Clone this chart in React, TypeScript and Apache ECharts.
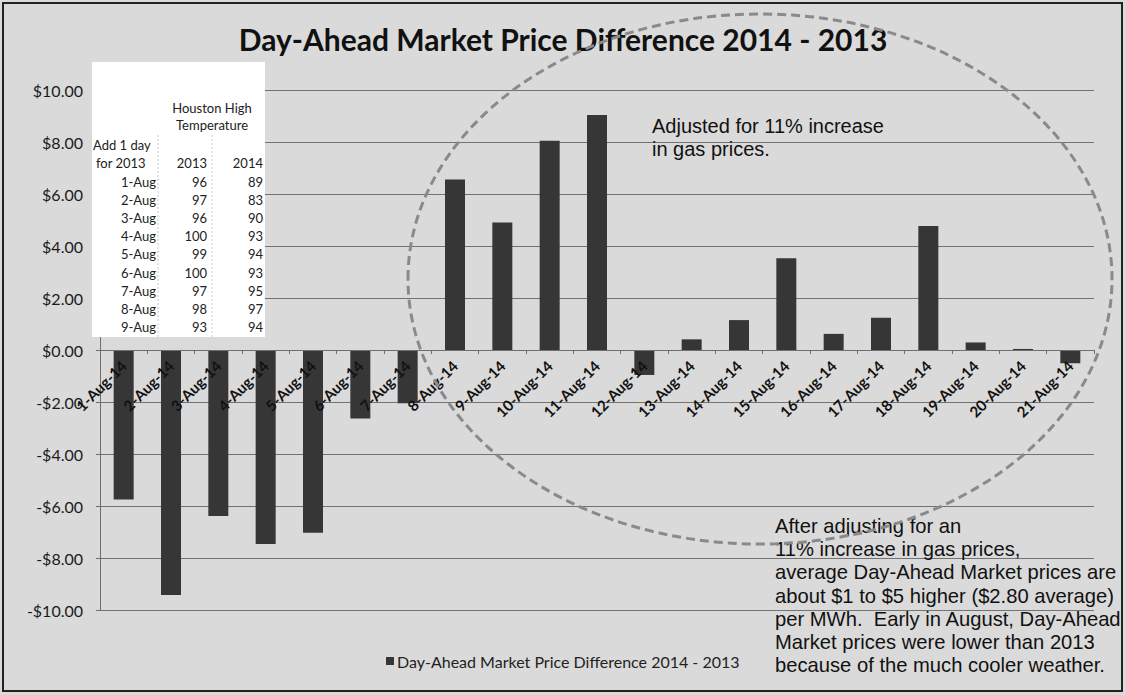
import React, { useEffect, useRef } from "react";
import * as echarts from "echarts";

const categories = [
  "1-Aug-14", "2-Aug-14", "3-Aug-14", "4-Aug-14", "5-Aug-14", "6-Aug-14", "7-Aug-14",
  "8-Aug-14", "9-Aug-14", "10-Aug-14", "11-Aug-14", "12-Aug-14", "13-Aug-14", "14-Aug-14",
  "15-Aug-14", "16-Aug-14", "17-Aug-14", "18-Aug-14", "19-Aug-14", "20-Aug-14", "21-Aug-14",
];
const priceDiff = [
  -5.75, -9.42, -6.38, -7.46, -7.03, -2.63, -2.05,
  6.56, 4.9, 8.05, 9.04, -0.96, 0.41, 1.15,
  3.53, 0.62, 1.24, 4.77, 0.29, 0.04, -0.51,
];
const seriesName = "Day-Ahead Market Price Difference 2014 - 2013";
const titleText = "Day-Ahead Market Price Difference 2014 - 2013";

const tableDates = ["1-Aug", "2-Aug", "3-Aug", "4-Aug", "5-Aug", "6-Aug", "7-Aug", "8-Aug", "9-Aug"];
const temps2013 = [96, 97, 96, 100, 99, 100, 97, 98, 93];
const temps2014 = [89, 83, 90, 93, 94, 93, 95, 97, 94];
const tableHeaderTop = ["Houston High", "Temperature"];
const tableHeaderLeft = ["Add 1 day", "for 2013"];
const tableYears = ["2013", "2014"];

const noteTop = ["Adjusted for 11% increase", "in gas prices."];
const noteBottom = [
  "After adjusting for an",
  "11% increase in gas prices,",
  "average Day-Ahead Market prices are",
  "about $1 to $5 higher ($2.80 average)",
  "per MWh.  Early in August, Day-Ahead",
  "Market prices were lower than 2013",
  "because of the much cooler weather.",
];

const yMin = -10;
const yMax = 10;
const yInterval = 2;

export default function App() {
  const ref = useRef<HTMLDivElement>(null);
  useEffect(() => {
    if (!ref.current) return;
    const chart = echarts.init(ref.current, null, { renderer: "svg" });
    const tFont = "Lato, 'Noto Sans', sans-serif";
    const aFont = "'Liberation Sans', Arial, sans-serif";
    const rowY0 = 182;
    const rowStep = 18.1;
    const tableTexts: any[] = [];
    const tf = `13px ${tFont}`;
    tableHeaderTop.forEach((t, i) => {
      tableTexts.push({
        type: "text", x: 212, y: 108 + i * 17, z: 20,
        style: { text: t, font: tf, fill: "#222", align: "center", verticalAlign: "middle" },
      });
    });
    tableHeaderLeft.forEach((t, i) => {
      tableTexts.push({
        type: "text", x: 93 + i * 3, y: 145 + i * 18, z: 20,
        style: { text: t, font: tf, fill: "#222", align: "left", verticalAlign: "middle" },
      });
    });
    tableYears.forEach((t, i) => {
      tableTexts.push({
        type: "text", x: i === 0 ? 207 : 263, y: 163, z: 20,
        style: { text: t, font: tf, fill: "#222", align: "right", verticalAlign: "middle" },
      });
    });
    tableDates.forEach((d, i) => {
      const y = rowY0 + i * rowStep;
      tableTexts.push(
        { type: "text", x: 156, y, z: 20, style: { text: d, font: tf, fill: "#222", align: "right", verticalAlign: "middle" } },
        { type: "text", x: 207, y, z: 20, style: { text: String(temps2013[i]), font: tf, fill: "#222", align: "right", verticalAlign: "middle" } },
        { type: "text", x: 263, y, z: 20, style: { text: String(temps2014[i]), font: tf, fill: "#222", align: "right", verticalAlign: "middle" } },
      );
    });

    chart.setOption({
      animation: false,
      backgroundColor: "#dadada",
      title: {
        text: titleText,
        left: "center",
        top: 19,
        textStyle: { fontFamily: tFont, fontSize: 30, fontWeight: "bold", color: "#111" },
      },
      legend: {
        data: [seriesName],
        left: 381,
        top: 648,
        icon: "rect",
        itemWidth: 8,
        itemHeight: 8,
        itemGap: 4,
        textStyle: { fontFamily: tFont, fontSize: 16, color: "#222", padding: [0, 0, 0, -2] },
      },
      grid: { left: 100, right: 32, top: 90, bottom: 85, containLabel: false },
      xAxis: {
        type: "category",
        data: categories,
        offset: -260,
        axisLine: { onZero: false, lineStyle: { color: "#6f6f6f", width: 1 } },
        axisTick: { show: true, length: 4, lineStyle: { color: "#6f6f6f" } },
        axisLabel: {
          rotate: 45,
          interval: 0,
          margin: 13,
          fontFamily: tFont,
          fontSize: 15,
          fontWeight: "bold",
          color: "#111",
        },
        z: 5,
      },
      yAxis: {
        type: "value",
        min: yMin,
        max: yMax,
        interval: yInterval,
        axisLine: { show: true, lineStyle: { color: "#6f6f6f" } },
        axisTick: { show: true, length: 4, lineStyle: { color: "#6f6f6f" } },
        splitLine: { show: true, lineStyle: { color: "#737373", width: 1 } },
        axisLabel: {
          margin: 17,
          fontFamily: tFont,
          fontSize: 16,
          color: "#1a1a1a",
          formatter: (v: number) => (v < 0 ? "-" : "") + "$" + Math.abs(v).toFixed(2),
        },
      },
      series: [
        {
          name: seriesName,
          type: "bar",
          data: priceDiff,
          barWidth: 20,
          z: 2,
          itemStyle: { color: "#363636" },
        },
      ],
      graphic: [
        {
          type: "rect", z: 100,
          shape: { x: 3, y: 3, width: 1119, height: 688 },
          style: { fill: "none", stroke: "#222", lineWidth: 2 },
        },
        {
          type: "rect", z: 10,
          shape: { x: 92, y: 62, width: 173, height: 275 },
          style: { fill: "#ffffff", stroke: "none" },
        },
        {
          type: "line", z: 11,
          shape: { x1: 158, y1: 135, x2: 158, y2: 337 },
          style: { stroke: "#c8c8c8", lineWidth: 1, lineDash: [2, 2] },
        },
        {
          type: "line", z: 11,
          shape: { x1: 212, y1: 135, x2: 212, y2: 337 },
          style: { stroke: "#c8c8c8", lineWidth: 1, lineDash: [2, 2] },
        },
        ...tableTexts,
        {
          type: "text", x: 652, y: 114, z: 20,
          style: { text: noteTop.join("\n"), font: `20px ${aFont}`, lineHeight: 23, fill: "#111", align: "left", verticalAlign: "top" },
        },
        {
          type: "text", x: 775, y: 514, z: 20,
          style: { text: noteBottom.join("\n"), font: `20.2px ${aFont}`, lineHeight: 23.3, fill: "#111", align: "left", verticalAlign: "top" },
        },
        {
          type: "ellipse", z: 30,
          shape: { cx: 760, cy: 279, rx: 352, ry: 265 },
          style: { fill: "none", stroke: "#8a8a8a", lineWidth: 3, lineDash: [9, 5] },
        },
      ],
    });
    return () => chart.dispose();
  }, []);
  return (
    <div
      ref={ref}
      style={{ position: "fixed", left: 0, top: 0, width: 1126, height: 695 }}
    />
  );
}
